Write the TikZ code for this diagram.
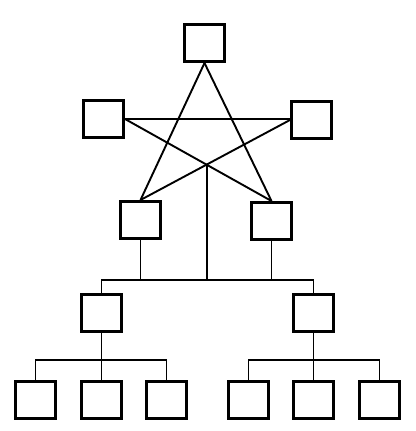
\documentclass[tikz,border=0pt]{standalone}
\usetikzlibrary{intersections}
\begin{document}
\begin{tikzpicture}[x=1pt,y=-1pt,
  box/.style={draw,line width=2.8pt,minimum width=40.2pt,minimum height=37.2pt,inner sep=0pt},
  link/.style={line width=1.9pt}]
\useasboundingbox (0,0) rectangle (415,431);
% etoile
\node[box] (top) at (204.5,43) {};
\node[box] (left) at (103.5,119) {};
\node[box] (right) at (311.5,120) {};
\node[box] (lowl) at (140.5,220) {};
\node[box] (lowr) at (271.5,221) {};
\draw[link] (top.south) -- (lowl.north);
\draw[link] (top.south) -- (lowr.north);
\draw[link] (left.east) -- (left.east -| right.west);
\draw[link,name path=diaga] (left.east) -- (lowr.north);
\draw[link,name path=diagb] (right.west) -- (lowl.north);
\path[name intersections={of=diaga and diagb}] coordinate (hub) at (intersection-1);
% bus du milieu
\coordinate (busa) at (0,280);
\node[box] (midl) at (101.5,313) {};
\node[box] (midr) at (313.5,313) {};
\draw[link] (midl.north) -- (midl.north |- busa) -- (midr.north |- busa) -- (midr.north);
\draw[link] (hub) -- (hub |- busa);
\draw[link] (lowl.south) -- (lowl.south |- busa);
\draw[link] (lowr.south) -- (lowr.south |- busa);
% rangee du bas
\coordinate (busb) at (0,360);
\foreach \name/\x in {b1/35.5,b2/101.5,b3/166.5,b4/248.5,b5/313.5,b6/379.5}
  \node[box] (\name) at (\x,400) {};
\draw[link] (b1.north) -- (b1.north |- busb) -- (b3.north |- busb) -- (b3.north);
\draw[link] (midl.south) -- (b2.north);
\draw[link] (b4.north) -- (b4.north |- busb) -- (b6.north |- busb) -- (b6.north);
\draw[link] (midr.south) -- (b5.north);
\end{tikzpicture}
\end{document}
